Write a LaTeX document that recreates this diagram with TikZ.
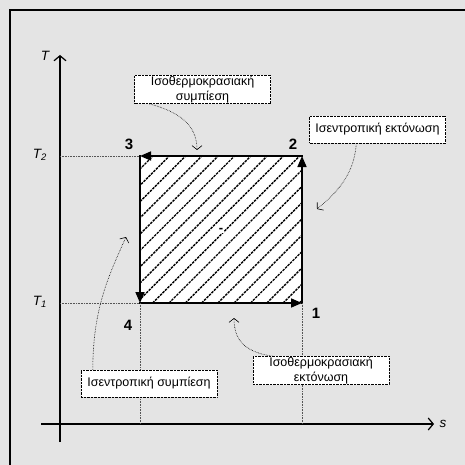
\documentclass[tikz,border=0pt]{standalone}
\usepackage{fontspec}
\setmainfont{Liberation Sans}
\usetikzlibrary{arrows.meta}
\definecolor{bgfill}{HTML}{E4E4E4}
\definecolor{guidegray}{HTML}{555555}

\begin{document}
\begin{tikzpicture}[
  x=1pt, y=-1pt,
  font=\fontsize{12.5}{14.3}\selectfont,
  frame/.style={line width=2pt},
  axis/.style={line width=1.2pt, -{Straight Barb[length=5pt,width=12pt]}},
  guide/.style={guidegray, densely dotted, line width=0.6pt},
  edge/.style={line width=1.6pt, line cap=rect, -{Triangle[length=11pt,width=9pt]}},
  hatch/.style={line width=1.4pt, dash pattern=on 2.5pt off 1pt},
  note/.style={draw, densely dotted, fill=white, align=center,
    minimum width=136pt, minimum height=27pt, inner sep=1pt},
  callout/.style={densely dotted, line width=0.6pt, -{Straight Barb[length=4pt,width=10pt]}},
  num/.style={font=\bfseries\fontsize{15}{15}\selectfont},
  tlbl/.style={font=\itshape\fontsize{13.5}{14}\selectfont},
]

\fill[bgfill] (0,0) rectangle (465,465);
\useasboundingbox (0,0) rectangle (465,465);
\draw[frame] (10,465) -- (10,10) -- (465,10);

% ---------- axes ----------
\coordinate (o) at (60,424);
\coordinate (tbot) at (60,442);
\coordinate (ttop) at (60,55);
\coordinate (sbeg) at (41,424);
\coordinate (send) at (434,424);
\draw[axis] (tbot) -- (ttop);
\draw[axis] (sbeg) -- (send);
\node[tlbl] (tlab) at (45,56) {T};
\node[tlbl] (slab) at (443,424) {s};

% ---------- cycle 1-2-3-4 ----------
\coordinate (p1) at (302,303);
\coordinate (p2) at (302,156);
\coordinate (p3) at (140,156);
\coordinate (p4) at (140,303);

% hatched area
\fill[white] (p4) rectangle (p2);
\begin{scope}
  \clip (p4) rectangle (p2);
  \foreach \i in {-1,...,18}
    \draw[hatch] ({6+16.3*\i},303) -- ++(147,-147);
\end{scope}
\node[fill=white, inner sep=1pt, font=\bfseries\fontsize{13}{13}\selectfont] (wnet) at (221,230) {-};

\draw[edge] (p1) -- (p2);
\draw[edge] (p2) -- (p3);
\draw[edge] (p3) -- (p4);
\draw[edge] (p4) -- (p1);

% guide lines to the axes
\draw[guide] (o |- p3) -- (p3);
\draw[guide] (o |- p4) -- (p4);
\draw[guide] (p4) -- (p4 |- o);
\draw[guide] (p1) -- (p1 |- o);

\node[tlbl] (t2lab) at (40,155) {T\textsubscript{2}};
\node[tlbl] (t1lab) at (40,302) {T\textsubscript{1}};

% state numbers: name, x, y, text
\foreach \nm/\x/\y/\t in {n3/129/144/3, n2/293/144/2, n1/316/313/1, n4/128/325/4}
  \node[num] (\nm) at (\x,\y) {\t};

% ---------- process notes ----------
\node[note] (thermcomp) at (202.5,89.5) {Ισοθερμοκρασιακή\\συμπίεση};
\node[note] (isenexp) at (377.5,129.5) {Ισεντροπική εκτόνωση};
\node[note] (isencomp) at (149,383.5) {Ισεντροπική συμπίεση};
\node[note] (thermexp) at (321,370.5) {Ισοθερμοκρασιακή\\εκτόνωση};

\coordinate (tipA) at (197,150);
\coordinate (tipB) at (317,209);
\coordinate (tipC) at (126,237);
\coordinate (tipD) at (234,318);

\draw[callout] ([xshift=15pt]thermcomp.south west) .. controls +(30,8) and +(0,-25) .. (tipA);
\draw[callout] ([xshift=47pt]isenexp.south west) .. controls +(-2,30) and +(22,-18) .. (tipB);
\draw[callout] ([xshift=12pt]isencomp.north west) .. controls +(0,-60) and +(-18,40) .. (tipC);
\draw[callout] ([xshift=20pt]thermexp.north west) .. controls +(-30,-4) and +(0,20) .. (tipD);

\end{tikzpicture}
\end{document}
